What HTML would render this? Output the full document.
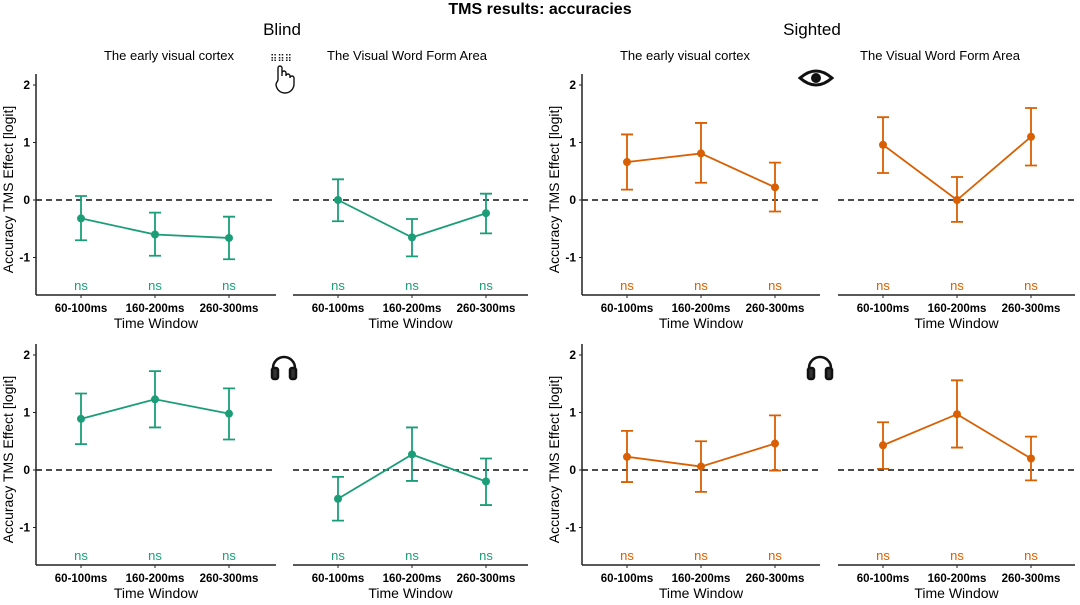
<!DOCTYPE html>
<html><head><meta charset="utf-8"><style>
body{margin:0;background:#fff;}
svg text{font-family:"Liberation Sans",Arial,sans-serif;}
</style></head><body>
<svg id="chart" width="1080" height="600" viewBox="0 0 1080 600" xmlns="http://www.w3.org/2000/svg">
<text x="540" y="14" text-anchor="middle" font-size="16" font-weight="bold">TMS results: accuracies</text>
<text x="282" y="35" text-anchor="middle" font-size="17">Blind</text>
<text x="812" y="35" text-anchor="middle" font-size="17">Sighted</text>
<text x="169" y="60" text-anchor="middle" font-size="13">The early visual cortex</text>
<text x="407" y="60" text-anchor="middle" font-size="13">The Visual Word Form Area</text>
<text x="685" y="60" text-anchor="middle" font-size="13">The early visual cortex</text>
<text x="940" y="60" text-anchor="middle" font-size="13">The Visual Word Form Area</text>
<g fill="none" stroke="#111" stroke-width="1.4">
<text x="270" y="62" font-size="10" fill="#111" stroke="none">⠿⠿⠿</text>
<path d="M278 80 v-12 a2 2 0 0 1 4 0 v8 v-3 a2 2 0 0 1 4 0 v3 a2 2 0 0 1 4 0 v2 a2 2 0 0 1 4 0 v6 a9 9 0 0 1 -9 9 a9 9 0 0 1 -9 -9 z"/>
</g>
<g>
<path d="M800 78 Q816 64 832 78 Q816 92 800 78 Z" fill="#fff" stroke="#111" stroke-width="3"/>
<circle cx="816" cy="78" r="5" fill="#111"/>
</g>
<g id="panels"></g>
</svg>
<script>
const categories=["60-100ms","160-200ms","260-300ms"];
const yTicks=[2,1,0,-1];
const p1Mean=[-0.32,-0.6,-0.66], p1Lo=[-0.7,-0.97,-1.03], p1Hi=[0.07,-0.22,-0.29];
const p2Mean=[0.0,-0.65,-0.23], p2Lo=[-0.37,-0.98,-0.58], p2Hi=[0.36,-0.33,0.11];
const p3Mean=[0.66,0.81,0.22], p3Lo=[0.18,0.3,-0.2], p3Hi=[1.14,1.34,0.65];
const p4Mean=[0.96,0.0,1.1], p4Lo=[0.47,-0.38,0.6], p4Hi=[1.44,0.4,1.6];
const p5Mean=[0.89,1.23,0.98], p5Lo=[0.45,0.74,0.53], p5Hi=[1.33,1.72,1.42];
const p6Mean=[-0.5,0.27,-0.2], p6Lo=[-0.88,-0.19,-0.61], p6Hi=[-0.12,0.74,0.2];
const p7Mean=[0.23,0.06,0.46], p7Lo=[-0.21,-0.38,-0.01], p7Hi=[0.68,0.5,0.95];
const p8Mean=[0.43,0.97,0.2], p8Lo=[0.02,0.39,-0.18], p8Hi=[0.83,1.56,0.58];
const sigLabels=["ns","ns","ns"];

const NS="http://www.w3.org/2000/svg";
const root=document.getElementById('panels');
function mk(tag,attrs,parent){const e=document.createElementNS(NS,tag);for(const k in attrs)e.setAttribute(k,attrs[k]);(parent||root).appendChild(e);return e;}
const G="#1b9e77",O="#d95f02";
const panels=[
 {x0:36,x1:276,zero:200,top:74,bot:295,yaxis:true,c:G,m:p1Mean,lo:p1Lo,hi:p1Hi,n:"blind-evc-visual"},
 {x0:293,x1:528,zero:200,top:74,bot:295,yaxis:false,c:G,m:p2Mean,lo:p2Lo,hi:p2Hi,n:"blind-vwfa-visual"},
 {x0:582,x1:820,zero:200,top:74,bot:295,yaxis:true,c:O,m:p3Mean,lo:p3Lo,hi:p3Hi,n:"sighted-evc-visual"},
 {x0:838,x1:1075,zero:200,top:74,bot:295,yaxis:false,c:O,m:p4Mean,lo:p4Lo,hi:p4Hi,n:"sighted-vwfa-visual"},
 {x0:36,x1:276,zero:470,top:344,bot:565,yaxis:true,c:G,m:p5Mean,lo:p5Lo,hi:p5Hi,n:"blind-evc-auditory"},
 {x0:293,x1:528,zero:470,top:344,bot:565,yaxis:false,c:G,m:p6Mean,lo:p6Lo,hi:p6Hi,n:"blind-vwfa-auditory"},
 {x0:582,x1:820,zero:470,top:344,bot:565,yaxis:true,c:O,m:p7Mean,lo:p7Lo,hi:p7Hi,n:"sighted-evc-auditory"},
 {x0:838,x1:1075,zero:470,top:344,bot:565,yaxis:false,c:O,m:p8Mean,lo:p8Lo,hi:p8Hi,n:"sighted-vwfa-auditory"}
];
const U=57.5;
panels.forEach(p=>{
 const g=mk('g',{});
 
 
 const ys=v=>p.zero-v*U;
 const xs=i=>p.x0+45+i*74;
 const xa=mk('line',{x1:p.x0,x2:p.x1,y1:p.bot,y2:p.bot,stroke:'#222','stroke-width':1.5},g);
 
 const zl=mk('line',{x1:p.x0,x2:p.x1,y1:ys(0),y2:ys(0),stroke:'#111','stroke-width':1.6,'stroke-dasharray':'6,4'},g);
 
 if(p.yaxis){
  const ya=mk('line',{x1:p.x0,x2:p.x0,y1:p.top,y2:p.bot,stroke:'#222','stroke-width':1.5},g);
  
  yTicks.forEach(t=>{
   mk('line',{x1:p.x0-3,x2:p.x0,y1:ys(t),y2:ys(t),stroke:'#222'},g);
   const tx=mk('text',{x:p.x0-6,y:ys(t)+4,'text-anchor':'end','font-size':12,'font-weight':'bold'},g);
   tx.textContent=t;
   
  });
  const yt=mk('text',{transform:`translate(${p.x0-23},${(p.top+p.bot)/2+5}) rotate(-90)`,'text-anchor':'middle','font-size':14},g);
  yt.textContent='Accuracy TMS Effect [logit]';
  
 }
 categories.forEach((c,i)=>{
  mk('line',{x1:xs(i),x2:xs(i),y1:p.bot,y2:p.bot+3,stroke:'#222'},g);
  const tl=mk('text',{x:xs(i),y:p.bot+17,'text-anchor':'middle','font-size':11.5,'font-weight':'bold'},g);
  tl.textContent=c;
  
  const ns=mk('text',{x:xs(i),y:p.bot-5,'text-anchor':'middle','font-size':13,fill:p.c},g);
  ns.textContent=sigLabels[i];
  
 });
 const xt=mk('text',{x:(p.x0+p.x1)/2,y:p.bot+33,'text-anchor':'middle','font-size':14},g);
 xt.textContent='Time Window';
 
 const line=mk('polyline',{points:p.m.map((v,i)=>xs(i)+','+ys(v)).join(' '),fill:'none',stroke:p.c,'stroke-width':1.8},g);
 
 p.m.forEach((v,i)=>{
  const eb=mk('path',{d:`M${xs(i)-6},${ys(p.hi[i])}h12M${xs(i)},${ys(p.hi[i])}V${ys(p.lo[i])}M${xs(i)-6},${ys(p.lo[i])}h12`,stroke:p.c,'stroke-width':1.8,fill:'none'},g);
  
  const pt=mk('circle',{cx:xs(i),cy:ys(v),r:4,fill:p.c},g);
  
 });
});
function headphones(cx,cy,name){
 const g=mk('g',{fill:'none',stroke:'#111','stroke-width':2.5});
 
 
 mk('path',{d:`M${cx-11},${cy+6} v-4 a11 11 0 0 1 22 0 v4`},g);
 mk('rect',{x:cx-12,y:cy+2,width:6,height:11,rx:2,fill:'#333'},g);
 mk('rect',{x:cx+6,y:cy+2,width:6,height:11,rx:2,fill:'#333'},g);
}
headphones(284,366,'headphones-icon-blind');
headphones(820,366,'headphones-icon-sighted');
</script>
</body></html>
